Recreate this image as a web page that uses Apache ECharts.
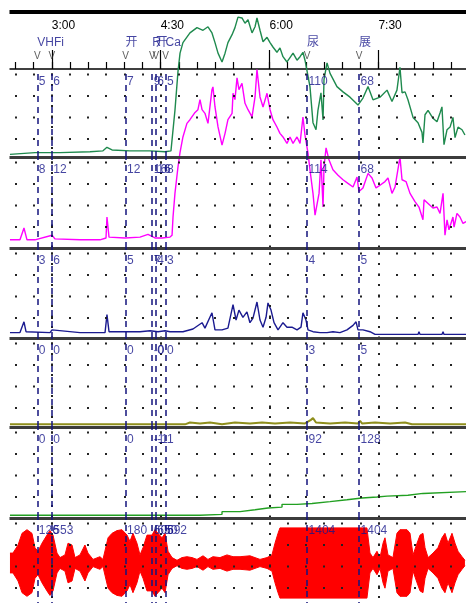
<!DOCTYPE html>
<html>
<head>
<meta charset="utf-8">
<script src="https://cdn.jsdelivr.net/npm/echarts@6/dist/echarts.min.js"></script>
<style>
html, body { margin: 0; padding: 0; background: #fff; }
#chart { width: 466px; height: 603px; }
</style>
</head>
<body>
<div id="chart"></div>
<script>
// x values: minutes after midnight
const eventTimes = [168, 180, 241, 263, 266, 274, 391, 434]
const eventNames = ['VHFi', '', '开', 'R', '开', 'Ca', '尿', '展']

const labels1 = ['5', '6', '7', '9', '6', '5', '110', '68']
const labels2 = ['8', '12', '12', '16', '16', '8', '114', '68']
const labels3 = ['3', '6', '5', '7', '4', '3', '4', '5']
const labels4 = ['0', '0', '0', '-0', '0', '0', '3', '5']
const labels5 = ['0', '0', '0', '-1', '-1', '1', '92', '128']
const labels6 = ['126', '553', '180', '605', '650', '692', '1404', '1404']

const trend1 = [[145.4,3],[166.1,5],[186.8,5],[211.6,6],[222.3,7],[225.6,11],[229.8,8],[244.6,7],[261.2,7],[273.6,6],[278.5,7],[281.8,53],[284.3,97],[286.0,118],[288.4,130],[294.2,141],[300.0,147],[305.0,144],[309.1,148],[312.4,141],[314.9,130],[317.4,118],[320.7,108],[323.2,118],[325.6,130],[329.0,139],[331.4,147],[333.9,159],[337.2,158],[339.7,152],[342.2,156],[345.5,141],[348.0,148],[349.6,158],[352.1,144],[354.6,131],[357.9,136],[360.4,130],[362.8,125],[366.1,119],[368.6,124],[371.1,114],[374.4,108],[376.9,113],[379.4,118],[382.7,110],[385.2,114],[387.6,119],[389.3,110],[390.9,108],[393.4,80],[395.9,39],[398.4,31],[400.0,53],[402.5,73],[404.2,42],[405.0,88],[407.5,107],[410.0,95],[415.7,80],[420.7,74],[426.5,68],[433.1,59],[437.2,67],[441.4,80],[445.5,65],[451.3,68],[457.1,76],[461.2,63],[465.3,76],[467.8,102],[469.5,73],[472.0,74],[474.4,65],[478.6,45],[482.7,39],[486.0,28],[486.8,16],[488.5,48],[491.0,53],[495.1,44],[498.4,40],[500.9,50],[502.5,57],[504.2,14],[506.7,31],[509.2,34],[511.6,45],[513.3,22],[515.8,34],[519.1,31],[521.5,25]]

const trend2 = [[145.4,9],[153.7,9],[157.0,22],[159.5,9],[166.1,9],[180.2,14],[182.6,10],[203.3,9],[219.8,9],[224.8,11],[225.6,34],[227.3,12],[240.5,11],[252.9,12],[259.5,15],[265.3,11],[271.1,11],[277.7,12],[279.4,14],[280.2,34],[281.8,60],[284.3,89],[286.0,105],[288.4,122],[291.7,137],[294.2,141],[298.4,149],[300.8,152],[302.5,163],[304.2,152],[306.6,148],[309.1,137],[312.4,174],[313.2,177],[314.9,155],[317.4,133],[320.7,113],[323.2,126],[325.6,141],[329.0,148],[329.8,170],[331.4,163],[333.1,187],[334.7,174],[337.2,181],[339.7,159],[342.2,152],[345.5,144],[348.0,166],[349.6,196],[352.1,166],[354.6,155],[357.9,170],[360.4,152],[362.8,141],[366.1,133],[368.6,126],[371.1,122],[374.4,115],[376.9,122],[379.4,115],[382.7,122],[385.2,115],[387.6,144],[389.3,124],[391.8,104],[393.4,86],[395.9,60],[397.6,36],[399.2,34],[400.9,60],[402.5,97],[404.2,45],[405.0,89],[406.7,110],[409.1,97],[412.4,86],[416.6,80],[420.7,75],[424.8,71],[429.0,67],[432.3,78],[433.9,62],[437.2,66],[441.4,82],[444.7,77],[448.0,66],[451.3,69],[455.4,73],[457.9,77],[461.2,60],[463.7,67],[467.8,100],[469.5,75],[472.8,73],[476.1,60],[480.2,51],[483.5,45],[486.8,31],[487.7,53],[491.0,49],[495.1,44],[498.4,45],[500.9,38],[503.4,60],[505.0,14],[506.7,31],[508.3,20],[511.6,34],[512.5,23],[514.9,38],[517.4,34],[519.9,27],[522.4,29]]

const trend3 = [[145.4,6],[153.7,6],[157.0,18],[158.7,7],[178.5,6],[180.2,9],[181.8,7],[203.3,6],[224.0,6],[225.6,26],[227.3,7],[240.5,7],[252.9,7],[261.2,8],[267.8,7],[273.6,8],[277.7,7],[288.4,7],[296.7,10],[304.2,17],[306.6,11],[312.4,28],[314.9,9],[320.7,9],[325.6,11],[329.8,37],[332.3,20],[334.7,31],[338.0,23],[341.3,29],[343.8,17],[346.3,22],[349.6,40],[352.1,20],[354.6,12],[357.1,23],[358.7,39],[361.2,31],[363.7,17],[367.0,9],[371.1,17],[374.4,12],[378.5,12],[382.7,9],[386.0,12],[387.6,28],[390.1,20],[391.8,9],[395.9,7],[401.7,6],[407.5,6],[412.4,7],[418.2,6],[424.0,9],[429.0,14],[431.5,18],[433.1,9],[437.2,9],[443.0,7],[447.2,4],[482.7,4],[483.5,7],[484.4,4],[502.5,4],[503.4,7],[504.2,4],[522.4,4]]

const trend4 = [[145.4,3],[290.1,3],[294.2,5],[302.5,4],[310.8,5],[320.7,3],[331.4,5],[343.8,4],[353.8,5],[364.5,4],[376.9,5],[389.3,4],[394.2,8],[395.9,10],[398.4,5],[410.0,4],[422.4,5],[433.1,4],[434.8,7],[436.4,4],[447.2,5],[459.6,4],[472.0,5],[477.7,3],[522.4,3]]

const trend5 = [[145.4,3],[302.5,4],[320.7,7],[335.6,9],[348.0,11],[358.7,12],[370.3,15],[382.7,16],[395.1,18],[410.0,20],[424.0,22],[436.4,23],[448.8,24],[457.1,25],[474.4,27],[486.8,29],[522.4,29]]

// raw signal amplitude envelope
const wave = [[145.4,11],[147.9,11],[152.1,20],[155.4,33],[159.5,37],[163.6,33],[166.1,17],[168.6,13],[171.9,22],[176.0,31],[178.5,36],[181.0,31],[184.3,11],[186.8,6],[190.9,9],[193.4,22],[196.7,20],[199.2,6],[203.3,9],[207.4,20],[209.9,11],[214.1,4],[219.8,7],[222.3,4],[226.5,28],[229.8,33],[233.9,36],[238.0,37],[242.2,31],[244.6,24],[247.1,33],[250.4,22],[252.9,9],[255.4,17],[258.7,31],[262.8,31],[265.3,37],[267.8,33],[271.1,28],[273.6,33],[276.1,13],[279.4,6],[283.5,3],[287.6,6],[291.7,7],[295.9,6],[300.0,4],[305.0,8],[309.1,4],[313.2,7],[319.0,6],[324.8,9],[329.8,7],[335.6,7],[343.8,8],[352.1,4],[357.9,6],[362.0,9],[364.5,22],[367.0,33],[368.6,39],[440.5,39],[443.0,11],[445.5,6],[448.8,13],[451.3,6],[453.8,22],[455.4,28],[457.9,9],[462.0,6],[465.3,33],[467.8,37],[473.6,37],[476.1,33],[478.6,9],[481.9,22],[484.4,31],[486.8,33],[488.5,17],[491.0,6],[495.1,11],[499.2,17],[502.5,28],[505.0,33],[507.5,22],[510.8,33],[513.3,22],[515.8,13],[519.1,7],[521.5,3]]

const chart = echarts.init(document.getElementById('chart'))

const xMin = 90, xMax = 540
const gridLeft = -57.08, gridWidth = 544.4
const font = 'Liberation Sans, Arial, Noto Sans CJK SC, sans-serif'
const navy = '#15158a'

const panels = [
  { top: 69, height: 88, min: 0, max: 100, data: trend1, color: '#1f8a4e', labels: labels1 },
  { top: 157, height: 91, min: 0, max: 100, data: trend2, color: '#ff00ff', labels: labels2 },
  { top: 248, height: 90, min: 0, max: 100, data: trend3, color: '#1a1a90', labels: labels3 },
  { top: 338, height: 89, min: 0, max: 100, data: trend4, color: '#8f8f1c', labels: labels4, width: 2 },
  { top: 427, height: 91, min: 0, max: 100, data: trend5, color: '#22a022', labels: labels5, step: 'end' },
  { top: 518, height: 90, min: -50, max: 50, data: null, color: '#ff0000', labels: labels6 }
]

const fmtTime = v => Math.floor(v / 60) + ':' + String(v % 60).padStart(2, '0')
const gridBase = { left: gridLeft, width: gridWidth, containLabel: false, outerBoundsMode: 'none' }

let grid = [Object.assign({ top: 12, height: 57 }, gridBase)]
let xAxis = [
  {
    type: 'value', gridIndex: 0, min: xMin, max: xMax, interval: 15, position: 'bottom',
    axisLine: { onZero: false, lineStyle: { color: '#000', width: 1.5 } },
    axisTick: { inside: true, length: 7, lineStyle: { color: '#000', width: 1.2 } },
    axisLabel: { show: false }, splitLine: { show: false }
  },
  {
    type: 'value', gridIndex: 0, min: xMin, max: xMax, interval: 90, position: 'bottom',
    axisLine: { show: false },
    axisTick: { inside: true, length: 19, lineStyle: { color: '#000', width: 1.2 } },
    axisLabel: {
      inside: true, margin: 37, align: 'left', color: '#000', fontSize: 12, fontFamily: font,
      showMinLabel: false, showMaxLabel: false, formatter: fmtTime
    },
    splitLine: { show: false }
  },
  {
    type: 'value', gridIndex: 0, min: xMin, max: xMax, position: 'top',
    axisLine: { lineStyle: { color: '#000', width: 4 } },
    axisTick: { show: false }, axisLabel: { show: false }, splitLine: { show: false }
  }
]
let yAxis = [{ gridIndex: 0, min: 0, max: 1, show: false }]
let series = [
  {
    type: 'scatter', xAxisIndex: 0, yAxisIndex: 0, symbolSize: 1,
    itemStyle: { color: 'rgba(0,0,0,0)' },
    data: eventTimes.map(t => [t, 0]),
    label: { show: true, position: 'top', distance: 7, formatter: 'V', color: '#333', fontSize: 10, fontFamily: font }
  },
  {
    type: 'scatter', xAxisIndex: 0, yAxisIndex: 0, symbolSize: 1,
    itemStyle: { color: 'rgba(0,0,0,0)' },
    data: eventTimes.map((t, i) => ({ value: [t, 0], name: eventNames[i] })),
    label: {
      show: true, position: 'top', distance: 20, align: 'left', formatter: '{b}',
      color: navy, fontSize: 12, fontFamily: font
    }
  }
]

panels.forEach((p, i) => {
  const g = i + 1
  grid.push(Object.assign({ top: p.top, height: p.height }, gridBase))
  const minorIdx = xAxis.length
  xAxis.push({
    type: 'value', gridIndex: g, min: xMin, max: xMax, interval: 15, position: 'bottom', z: 3,
    axisLine: { onZero: false, lineStyle: { color: '#3c3c3c', width: 3 } },
    axisTick: { show: false }, axisLabel: { show: false },
    splitLine: { show: true, lineStyle: { color: '#222', width: 2, type: [2, 19.5], dashOffset: 17 } }
  })
  xAxis.push({
    type: 'value', gridIndex: g, min: xMin, max: xMax, interval: 90, position: 'bottom', z: 3,
    axisLine: { show: false }, axisTick: { show: false }, axisLabel: { show: false },
    splitLine: { show: true, lineStyle: { color: '#222', width: 2, type: [2, 8.5], dashOffset: 6 } }
  })
  yAxis.push({ gridIndex: g, min: p.min, max: p.max, show: false })

  if (p.data) {
    series.push({
      type: 'line', xAxisIndex: minorIdx, yAxisIndex: g, data: p.data, symbol: 'none',
      clip: false, step: p.step || false, z: 2,
      lineStyle: { color: p.color, width: p.width || 1.4 }
    })
  } else {
    const areaSeries = (d) => ({
      type: 'line', xAxisIndex: minorIdx, yAxisIndex: g, data: d, symbol: 'none', z: 2,
      lineStyle: { color: p.color, width: 1 },
      areaStyle: { color: p.color, opacity: 1, origin: 0 }
    })
    series.push(areaSeries(wave))
    series.push(areaSeries(wave.map(([t, a]) => [t, -a])))
  }

  series.push({
    type: 'scatter', xAxisIndex: minorIdx, yAxisIndex: g, symbolSize: 1, z: 4,
    itemStyle: { color: 'rgba(0,0,0,0)' },
    data: eventTimes.map((t, k) => ({ value: [t, p.max], name: p.labels[k] })),
    label: {
      show: true, position: [2, 7], formatter: '{b}',
      color: navy, fontSize: 12, fontFamily: font
    },
    markLine: {
      silent: true, symbol: ['none', 'none'], animation: false,
      label: { show: false },
      lineStyle: { color: '#14147e', type: [6, 5], width: 1.5 },
      data: eventTimes.map(t => ({ xAxis: t }))
    }
  })
})

chart.setOption({
  animation: false,
  backgroundColor: '#fff',
  grid: grid,
  xAxis: xAxis,
  yAxis: yAxis,
  series: series,
  graphic: [
    { type: 'rect', z: 100, shape: { x: 0, y: 0, width: 9.5, height: 603 }, style: { fill: '#fff' } }
  ]
})
</script>
</body>
</html>
